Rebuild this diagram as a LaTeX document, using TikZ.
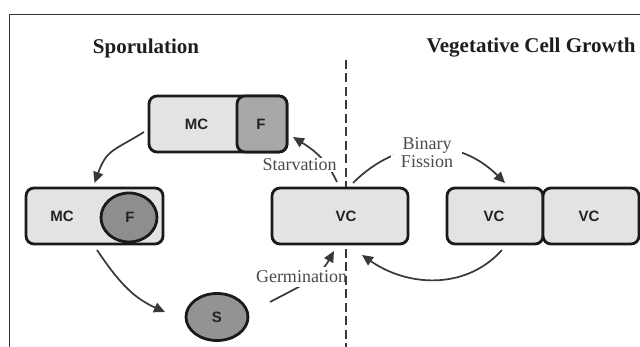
\documentclass[tikz,border=0pt]{standalone}
\usepackage{fontspec}
\setmainfont{Liberation Serif}
\newfontfamily\boxfont{Liberation Sans}
\usetikzlibrary{arrows.meta,shapes.geometric}
\definecolor{boxfill}{HTML}{E3E3E3}
\definecolor{fpart}{HTML}{A8A8A8}
\definecolor{fell}{HTML}{8E8E8E}
\definecolor{sfill}{HTML}{939393}
\definecolor{edge}{HTML}{1A1A1A}
\definecolor{arrcol}{HTML}{383838}
\definecolor{txt}{HTML}{222222}
\definecolor{notecol}{HTML}{4A4A4A}
\definecolor{titlecol}{HTML}{1E1E1E}
\definecolor{framecol}{HTML}{333333}
\definecolor{dashcol}{HTML}{3A3A3A}
\begin{document}
\begin{tikzpicture}[x=1pt,y=1pt,
  cell/.style={draw=edge,line width=2.8pt,fill=boxfill,rounded corners=8pt,minimum height=56pt,inner sep=0pt,outer sep=0pt},
  blob/.style={ellipse,draw=edge,line width=2.8pt,inner sep=0pt,outer sep=0pt},
  lbl/.style={font=\boxfont\bfseries\fontsize{15}{15}\selectfont,text=txt,inner sep=0pt},
  arr/.style={draw=arrcol,line width=1.7pt,-{Triangle[length=11pt,width=10pt]}},
  note/.style={font=\fontsize{18}{18}\selectfont,text=notecol,fill=white,inner sep=2pt},
  title/.style={font=\bfseries\fontsize{21}{22}\selectfont,text=titlecol}]
\useasboundingbox (0,0) rectangle (640,347);
\fill[white] (0,0) rectangle (640,347);
\draw[framecol,line width=1.3pt] (9.3,0) -- (9.3,332.3) -- (640,332.3);

% titles
\node[title,anchor=base] (t1) at (146,293) {Sporulation};
\node[title,anchor=base] (t2) at (531,294) {Vegetative Cell Growth};

% sporulation cells
\node[cell,minimum width=138pt] (mc1) at (218,223) {};
\node[cell,fill=fpart,minimum width=50pt] (f1) at (262,223) {};
\node[lbl] (mc1t) at (196.5,223) {MC};
\node[lbl] (f1t) at (261,223) {F};

\node[cell,minimum width=137pt] (mc2) at (94.5,131) {};
\node[blob,fill=fell,minimum width=56pt,minimum height=49pt] (f2) at (129,129.5) {};
\node[lbl] (mc2t) at (62,131) {MC};
\node[lbl] (f2t) at (130,130) {F};

\node[blob,fill=sfill,minimum width=62pt,minimum height=47pt] (s) at (217,30) {};
\node[lbl] (st) at (217,30) {S};

% vegetative cells
\node[cell,minimum width=96pt] (vc2) at (495,131) {};
\node[cell,minimum width=96pt] (vc3) at (591,131) {};
\node[lbl] (vc2t) at (494,131) {VC};
\node[lbl] (vc3t) at (589,131) {VC};

% central vegetative cell outline reference (drawn after the divider)
\node[cell,minimum width=136pt,draw=none,fill=none] (vc) at (340,131) {};

% arrows
\draw[arr] ([xshift=-5pt,yshift=-8pt]mc1.west) to[out=212,in=70,looseness=1.3] ([yshift=5pt]mc2.north);
\draw[arr] ([xshift=2.5pt,yshift=-6pt]mc2.south) to[out=304,in=156] ([xshift=-21pt,yshift=5pt]s.west);
\draw[arr] ([xshift=53pt,yshift=15pt]s.center) to[out=28,in=241] ([xshift=-6pt,yshift=-7pt]vc.south);
\draw[arr] ([xshift=-3pt,yshift=6pt]vc.north) to[out=115,in=328] ([xshift=6pt,yshift=-13pt]mc1.east);
\draw[arr] ([xshift=13pt,yshift=5pt]vc.north) to[out=45,in=135,looseness=1.1] ([xshift=10pt,yshift=5pt]vc2.north);
\draw[arr] ([xshift=7pt,yshift=-6pt]vc2.south) to[out=228,in=325] ([xshift=22pt,yshift=-11pt]vc.south);

% labels
\node[note,anchor=base,inner ysep=1pt] (starv) at (299.5,176) {Starvation};
\node[note,anchor=base,inner ysep=4pt] (germ) at (301.5,64) {Germination};
\node[note,anchor=base,inner xsep=10pt,inner ysep=1pt] (bin) at (427,197) {Binary};
\node[note,anchor=base,inner xsep=10pt,inner ysep=1pt] (fis) at (427,179) {Fission};

% dashed divider
\draw[dashcol,line width=2pt,dash pattern=on 9pt off 4.5pt] (346,287) -- (346,0);

% central vegetative cell on top of divider
\node[cell,minimum width=136pt] (vcbox) at (vc) {};
\node[lbl] (vct) at (346,131) {VC};
\end{tikzpicture}
\end{document}
